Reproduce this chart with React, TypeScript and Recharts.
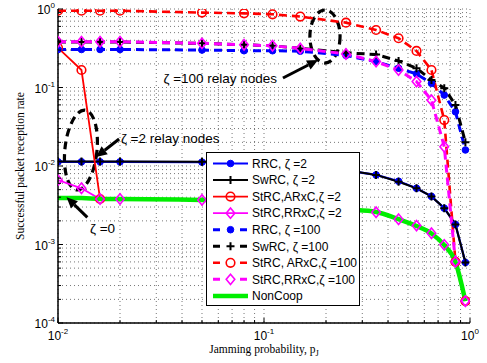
import React from 'react';
import {
  LineChart,
  Line,
  XAxis,
  YAxis,
  CartesianGrid,
  Legend,
  ReferenceArea,
  ReferenceLine,
  ReferenceDot,
} from 'recharts';

// ---------- data ----------
const pJ = [0.01, 0.013, 0.016, 0.02, 0.05, 0.08, 0.11, 0.15, 0.25, 0.35, 0.45, 0.55, 0.65, 0.75, 0.85, 0.95];

const rrc2 = [0.0113, 0.0113, 0.0113, 0.0113, 0.0112, 0.0109, 0.0104, 0.0099, 0.0088, 0.0077, 0.0064, 0.0052, 0.0041, 0.0029, 0.0018, 0.00059];
const swrc2 = [0.0114, 0.0114, 0.0114, 0.0114, 0.0113, 0.011, 0.0105, 0.01, 0.0089, 0.0077, 0.0063, 0.0052, 0.0041, 0.0029, 0.0018, 0.00059];
const strcAR2: (number | null)[] = [0.32, 0.167, 0.0038, null, null, null, null, null, null, null, null, null, null, null, null, null];
const strcRR2 = [0.0066, 0.0052, 0.0038, 0.0038, 0.0037, 0.0036, 0.0034, 0.0032, 0.0028, 0.00257, 0.0021, 0.00174, 0.00139, 0.00099, 0.00061, 0.00019];
const rrc100 = [0.305, 0.305, 0.305, 0.305, 0.3, 0.294, 0.294, 0.29, 0.256, 0.213, 0.176, 0.149, 0.113, 0.08, 0.049, 0.016];
const swrc100 = [0.38, 0.38, 0.38, 0.38, 0.365, 0.35, 0.34, 0.315, 0.277, 0.263, 0.218, 0.176, 0.125, 0.098, 0.06, 0.02];
const strcAR100 = [0.95, 0.95, 0.95, 0.95, 0.9, 0.88, 0.856, 0.8, 0.67, 0.54, 0.424, 0.292, 0.167, 0.0385, 0.0006, 0.00019];
const strcRR100 = [0.383, 0.383, 0.383, 0.383, 0.365, 0.35, 0.34, 0.315, 0.267, 0.214, 0.167, 0.119, 0.069, 0.0176, 0.0006, 0.00019];
const nonCoop = [0.0039, 0.0039, 0.0038, 0.0038, 0.0037, 0.0036, 0.0034, 0.0032, 0.0028, 0.0026, 0.0021, 0.00172, 0.00138, 0.00098, 0.0006, 0.00019];

const xMajors = [0.01, 0.1, 1];
const yMajors = [0.0001, 0.001, 0.01, 0.1, 1];
const xTickLabels = ['-2', '-1', '0'];
const yTickLabels = ['-4', '-3', '-2', '-1', '0'];

const legendLabels = [
  'RRC, \u03b6 =2',
  'SwRC, \u03b6 =2',
  'StRC,ARxC,\u03b6 =2',
  'StRC,RRxC,\u03b6 =2',
  'RRC, \u03b6 =100',
  'SwRC, \u03b6 =100',
  'StRC, ARxC,\u03b6 =100',
  'StRC,RRxC,\u03b6 =100',
  'NonCoop',
];

const xTitle = 'Jamming probability, p';
const yTitle = 'Successful packet reception rate';

// annotations (data coordinates)
const ellipses = [
  { x1: 0.0108, x2: 0.01546, y1: 0.00494, y2: 0.0517, rot: 6 },
  { x1: 0.167, x2: 0.234, y1: 0.205, y2: 0.971, rot: 0 },
];
const arrows = [
  { x1: 0.1236, y1: 0.132, x2: 0.183, y2: 0.224 },
  { x1: 0.0198, y1: 0.0221, x2: 0.0153, y2: 0.013 },
  { x1: 0.01388, y1: 0.00222, x2: 0.011, y2: 0.00399 },
];
const notes = [
  { x: 0.0325, y: 0.114, text: '\u03b6 =100 relay nodes' },
  { x: 0.0202, y: 0.0196, text: '\u03b6 =2 relay nodes' },
  { x: 0.0143, y: 0.0014, text: '\u03b6 =0' },
];

// ---------- derived ----------
const minorsOf = (majors: number[]) => {
  const out: number[] = [];
  majors.forEach((m, i) => {
    out.push(m);
    if (i < majors.length - 1) for (let k = 2; k <= 9; k++) out.push(+(m * k).toPrecision(6));
  });
  return out;
};
const xTicks = minorsOf(xMajors);
const yTicks = minorsOf(yMajors);

const data = pJ.map((p, i) => ({
  p,
  rrc2: rrc2[i],
  swrc2: swrc2[i],
  strcAR2: strcAR2[i],
  strcRR2: strcRR2[i],
  rrc100: rrc100[i],
  swrc100: swrc100[i],
  strcAR100: strcAR100[i],
  strcRR100: strcRR100[i],
  nonCoop: nonCoop[i],
}));

type Kind = 'dot' | 'plus' | 'circle' | 'diamond' | 'none';

const SANS = '"Liberation Sans", Arial, Helvetica, sans-serif';
const SERIF = '"Liberation Serif", "Times New Roman", serif';

const seriesStyle: { key: string; color: string; width: number; dash?: string; kind: Kind; curve?: 'linear' | 'monotone' }[] = [
  { key: 'rrc2', color: '#0000ff', width: 2.2, kind: 'dot' },
  { key: 'swrc2', color: '#000000', width: 2, kind: 'plus' },
  { key: 'strcAR2', color: '#ff0000', width: 1.8, kind: 'circle' },
  { key: 'strcRR2', color: '#ff00ff', width: 1.8, kind: 'diamond' },
  { key: 'rrc100', color: '#0000ff', width: 3, dash: '8 5', kind: 'dot' },
  { key: 'swrc100', color: '#000000', width: 3, dash: '8 5', kind: 'plus' },
  { key: 'strcAR100', color: '#ff0000', width: 2.6, dash: '8 5', kind: 'circle' },
  { key: 'strcRR100', color: '#ff00ff', width: 3, dash: '8 5', kind: 'diamond' },
  { key: 'nonCoop', color: '#00ee00', width: 4.5, kind: 'none', curve: 'monotone' },
];

function marker(kind: Kind, cx: number, cy: number, color: string, key?: string) {
  switch (kind) {
    case 'dot':
      return <circle key={key} cx={cx} cy={cy} r={3.3} fill={color} stroke={color} strokeWidth={1} />;
    case 'plus':
      return (
        <path key={key} d={`M${cx - 4},${cy}H${cx + 4}M${cx},${cy - 4}V${cy + 4}`} stroke={color} strokeWidth={2} fill="none" />
      );
    case 'circle':
      return <circle key={key} cx={cx} cy={cy} r={4.3} fill="none" stroke={color} strokeWidth={1.6} />;
    case 'diamond':
      return (
        <path
          key={key}
          d={`M${cx},${cy - 5.2}L${cx + 4.3},${cy}L${cx},${cy + 5.2}L${cx - 4.3},${cy}Z`}
          fill="none"
          stroke={color}
          strokeWidth={1.6}
        />
      );
    default:
      return <g key={key} />;
  }
}

const isMajor = (v: number) => {
  const lg = Math.log10(v);
  return Math.abs(lg - Math.round(lg)) < 1e-6;
};

const BottomTick = (props: any) => {
  const { x, y, payload } = props;
  const v = payload.value;
  const major = isMajor(v);
  const idx = xMajors.findIndex((m) => Math.abs(m - v) < 1e-9);
  return (
    <g>
      <line x1={x} y1={y} x2={x} y2={y - (major ? 5 : 3)} stroke="#000" strokeWidth={1} />
      {major && idx >= 0 && (
        <text x={x} y={y + 17} textAnchor="middle" fontFamily={SANS} fontSize={12} fill="#000">
          10
          <tspan dy={-6} fontSize={8}>
            {xTickLabels[idx]}
          </tspan>
        </text>
      )}
    </g>
  );
};

const TopTick = (props: any) => {
  const { x, y, payload } = props;
  const major = isMajor(payload.value);
  return <line x1={x} y1={y} x2={x} y2={y + (major ? 5 : 3)} stroke="#000" strokeWidth={1} />;
};

const LeftTick = (props: any) => {
  const { x, y, payload } = props;
  const v = payload.value;
  const major = isMajor(v);
  const idx = yMajors.findIndex((m) => Math.abs(m / v - 1) < 1e-6);
  return (
    <g>
      <line x1={x} y1={y} x2={x + (major ? 5 : 3)} y2={y} stroke="#000" strokeWidth={1} />
      {major && idx >= 0 && (
        <text x={x - 3} y={y + 5} textAnchor="end" fontFamily={SANS} fontSize={12} fill="#000">
          10
          <tspan dy={-6} fontSize={8}>
            {yTickLabels[idx]}
          </tspan>
        </text>
      )}
    </g>
  );
};

const RightTick = (props: any) => {
  const { x, y, payload } = props;
  const major = isMajor(payload.value);
  return <line x1={x} y1={y} x2={x - (major ? 5 : 3)} y2={y} stroke="#000" strokeWidth={1} />;
};

const LegendBox = () => {
  const W = 153;
  const H = 153;
  return (
    <svg width={W + 2} height={H + 2} style={{ display: 'block' }}>
      <rect x={0.5} y={0.5} width={W} height={H} fill="#fff" stroke="#000" strokeWidth={1} />
      {seriesStyle.map((s, i) => {
        const cy = 11.5 + i * 16.55;
        return (
          <g key={s.key}>
            <line
              x1={7}
              y1={cy}
              x2={42}
              y2={cy}
              stroke={s.color}
              strokeWidth={s.kind === 'none' ? 4.5 : s.width}
              strokeDasharray={s.dash ? '7 20' : undefined}
            />
            {marker(s.kind, 24.5, cy, s.color)}
            <text x={46} y={cy + 4.3} fontFamily={SANS} fontSize={12} fill="#000">
              {legendLabels[i]}
            </text>
          </g>
        );
      })}
    </svg>
  );
};

const ArrowShape = (props: any) => {
  const { x1, y1, x2, y2 } = props;
  const ang = Math.atan2(y2 - y1, x2 - x1);
  const hl = 11;
  const hw = 5;
  const bx = x2 - hl * Math.cos(ang);
  const by = y2 - hl * Math.sin(ang);
  const px = -Math.sin(ang) * hw;
  const py = Math.cos(ang) * hw;
  return (
    <g>
      <line x1={x1} y1={y1} x2={bx} y2={by} stroke="#000" strokeWidth={3} />
      <path d={`M${x2},${y2}L${bx + px},${by + py}L${bx - px},${by - py}Z`} fill="#000" />
    </g>
  );
};

export default function App() {
  return (
    <div style={{ position: 'absolute', left: 0, top: 0, background: '#fff' }}>
      <LineChart width={487} height={363} data={data} margin={{ top: 9, right: 17, bottom: 10, left: 0 }}>
        <CartesianGrid stroke="#777" strokeWidth={1} strokeDasharray="1 3" />
        <XAxis
          dataKey="p"
          type="number"
          scale="log"
          domain={[0.01, 1]}
          allowDataOverflow
          ticks={xTicks}
          interval={0}
          tickSize={0}
          tickMargin={0}
          tickLine={false}
          height={30}
          axisLine={{ stroke: '#000', strokeWidth: 1.5 }}
          tick={<BottomTick />}
          label={{
            content: (lp: any) => {
              const vb = lp.viewBox || { x: 58, y: 323, width: 412 };
              return (
                <text x={vb.x + vb.width / 2} y={vb.y + 30} textAnchor="middle" fontFamily={SERIF} fontSize={11.5} fill="#000">
                  {xTitle}
                  <tspan dy={3} fontSize={8.5}>
                    J
                  </tspan>
                </text>
              );
            },
          }}
        />
        <XAxis
          xAxisId="top"
          orientation="top"
          type="number"
          scale="log"
          domain={[0.01, 1]}
          allowDataOverflow
          ticks={xTicks}
          interval={0}
          tickSize={0}
          tickMargin={0}
          tickLine={false}
          height={0}
          axisLine={{ stroke: '#000', strokeWidth: 1.5 }}
          tick={<TopTick />}
        />
        <YAxis
          type="number"
          scale="log"
          domain={[0.0001, 1]}
          allowDataOverflow
          ticks={yTicks}
          interval={0}
          tickSize={0}
          tickMargin={0}
          tickLine={false}
          width={58}
          axisLine={{ stroke: '#000', strokeWidth: 1.5 }}
          tick={<LeftTick />}
          label={{
            content: (lp: any) => {
              const vb = lp.viewBox || { x: 0, y: 9, height: 314 };
              const cx = 24;
              const cy = vb.y + vb.height / 2;
              return (
                <text
                  x={cx}
                  y={cy}
                  transform={`rotate(-90 ${cx} ${cy})`}
                  textAnchor="middle"
                  fontFamily={SERIF}
                  fontSize={11.5}
                  fill="#000"
                >
                  {yTitle}
                </text>
              );
            },
          }}
        />
        <YAxis
          yAxisId="right"
          orientation="right"
          type="number"
          scale="log"
          domain={[0.0001, 1]}
          allowDataOverflow
          ticks={yTicks}
          interval={0}
          tickSize={0}
          tickMargin={0}
          tickLine={false}
          width={0}
          axisLine={{ stroke: '#000', strokeWidth: 1.5 }}
          tick={<RightTick />}
        />

        {seriesStyle.map((s) => (
          <Line
            key={s.key}
            dataKey={s.key}
            type={s.curve || 'linear'}
            stroke={s.color}
            strokeWidth={s.width}
            strokeDasharray={s.dash}
            connectNulls={false}
            isAnimationActive={false}
            activeDot={false}
            dot={(dp: any) => {
              const k = `${s.key}-${dp.index}`;
              if (s.kind === 'none' || dp.cx == null || dp.cy == null || dp.value == null) return <g key={k} />;
              return marker(s.kind, dp.cx, dp.cy, s.color, k);
            }}
          />
        ))}

        {ellipses.map((e, i) => (
          <ReferenceArea
            key={`el${i}`}
            x1={e.x1}
            x2={e.x2}
            y1={e.y1}
            y2={e.y2}
            ifOverflow="visible"
            shape={(sp: any) => {
              const cx = sp.x + sp.width / 2;
              const cy = sp.y + sp.height / 2;
              return (
                <ellipse
                  cx={cx}
                  cy={cy}
                  rx={Math.abs(sp.width) / 2}
                  ry={Math.abs(sp.height) / 2}
                  transform={`rotate(${e.rot} ${cx} ${cy})`}
                  fill="none"
                  stroke="#000"
                  strokeWidth={3.2}
                  strokeDasharray="8 5"
                />
              );
            }}
          />
        ))}

        {arrows.map((a, i) => (
          <ReferenceLine
            key={`ar${i}`}
            segment={[
              { x: a.x1, y: a.y1 },
              { x: a.x2, y: a.y2 },
            ]}
            ifOverflow="visible"
            shape={(lp: any) => <ArrowShape {...lp} />}
          />
        ))}

        {notes.map((n, i) => (
          <ReferenceDot
            key={`nt${i}`}
            x={n.x}
            y={n.y}
            ifOverflow="visible"
            shape={(dp: any) => (
              <text x={dp.cx} y={dp.cy} fontFamily={SANS} fontSize={13.5} fill="#000">
                {n.text}
              </text>
            )}
          />
        ))}

        <Legend
          layout="vertical"
          align="center"
          verticalAlign="middle"
          wrapperStyle={{ left: 206, top: 152, width: 156, height: 156 }}
          content={() => <LegendBox />}
        />
      </LineChart>
    </div>
  );
}
